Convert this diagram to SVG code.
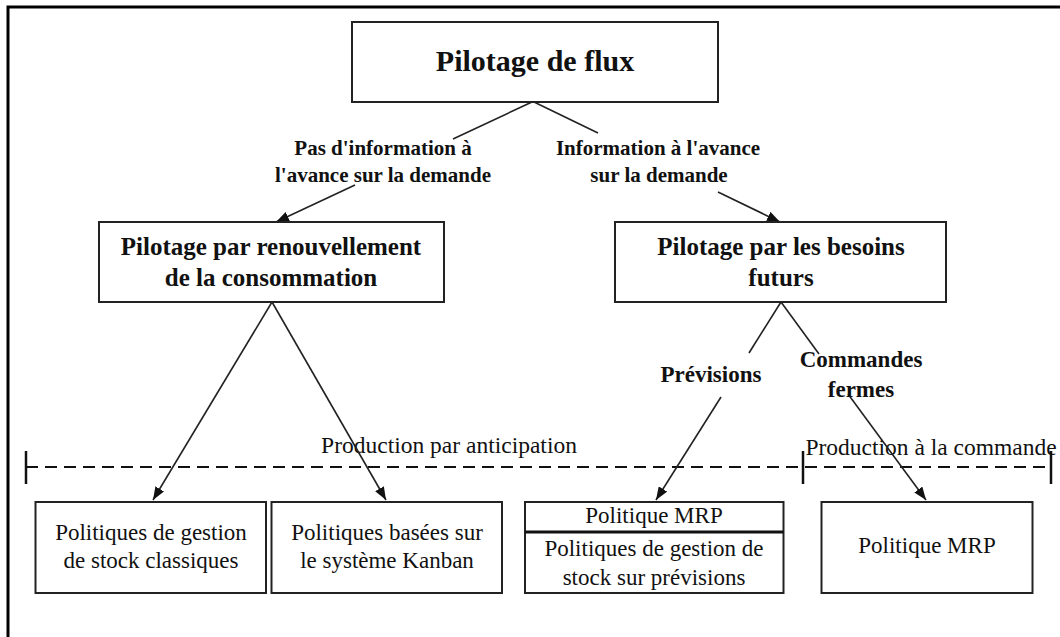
<svg xmlns="http://www.w3.org/2000/svg" width="1060" height="637" viewBox="0 0 1060 637">
  <defs>
    <marker id="arrow" markerUnits="userSpaceOnUse" markerWidth="14" markerHeight="10" refX="13" refY="5" orient="auto">
      <path d="M0,0 L13,5 L0,10 Z" fill="#111"/>
    </marker>
    <style>
      text { font-family: "Liberation Serif", "Times New Roman", serif; fill: #111; text-anchor: middle; }
      .title { font-size: 30px; font-weight: bold; }
      .head { font-size: 25px; font-weight: bold; }
      .lbl { font-size: 21px; font-weight: bold; }
      .lbl2 { font-size: 23px; font-weight: bold; }
      .leaf { font-size: 23px; }
      .zone { font-size: 23.5px; }
      .box { fill: #fff; stroke: #222; stroke-width: 2; }
      .edge { fill: none; stroke: #222; stroke-width: 1.6; }
      .dash { fill: none; stroke: #111; stroke-width: 1.8; stroke-dasharray: 12 7; }
      .tick { stroke: #111; stroke-width: 2.5; }
    </style>
  </defs>

  <rect width="1060" height="637" fill="#fff"/>

  <!-- outer frame -->
  <path d="M8,637 V7 H1060" fill="none" stroke="#000" stroke-width="3"/>

  <!-- production zones -->
  <g id="zones">
    <line class="dash" x1="26" y1="467" x2="1051" y2="467"/>
    <line class="tick" x1="26" y1="451" x2="26" y2="484"/>
    <line class="tick" x1="803" y1="451" x2="803" y2="484"/>
    <line class="tick" x1="1051" y1="451" x2="1051" y2="484"/>
    <text class="zone" x="449" y="453">Production par anticipation</text>
    <text class="zone" x="931" y="455">Production à la commande</text>
  </g>

  <!-- connectors -->
  <g id="connectors">
    <line class="edge" x1="532" y1="102" x2="453" y2="139"/>
    <line class="edge" x1="355" y1="185" x2="276" y2="222" marker-end="url(#arrow)"/>
    <line class="edge" x1="534" y1="102" x2="598" y2="133"/>
    <line class="edge" x1="718" y1="192" x2="780" y2="222" marker-end="url(#arrow)"/>
    <line class="edge" x1="272" y1="302" x2="153" y2="500" marker-end="url(#arrow)"/>
    <line class="edge" x1="272" y1="302" x2="386" y2="500" marker-end="url(#arrow)"/>
    <line class="edge" x1="781" y1="302" x2="749" y2="353"/>
    <line class="edge" x1="721" y1="397" x2="656" y2="500" marker-end="url(#arrow)"/>
    <line class="edge" x1="781" y1="302" x2="819" y2="354"/>
    <line class="edge" x1="848" y1="394" x2="926" y2="500" marker-end="url(#arrow)"/>
  </g>

  <!-- connector labels -->
  <g id="edge-labels">
    <text class="lbl" x="383" y="155">Pas d'information à</text>
    <text class="lbl" x="383" y="182">l'avance sur la demande</text>
    <text class="lbl" x="658" y="155">Information à l'avance</text>
    <text class="lbl" x="659" y="182">sur la demande</text>
    <text class="lbl2" x="711" y="382">Prévisions</text>
    <text class="lbl2" x="861" y="367">Commandes</text>
    <text class="lbl2" x="861" y="397">fermes</text>
  </g>

  <g id="pilotage-flux">
    <rect class="box" x="352" y="22" width="366" height="80"/>
    <text class="title" x="535" y="71">Pilotage de flux</text>
  </g>

  <g id="pilotage-renouvellement">
    <rect class="box" x="99" y="222" width="345" height="80"/>
    <text class="head" x="271" y="255">Pilotage par renouvellement</text>
    <text class="head" x="271" y="286">de la consommation</text>
  </g>

  <g id="pilotage-besoins">
    <rect class="box" x="615" y="222" width="331" height="80"/>
    <text class="head" x="781" y="255">Pilotage par les besoins</text>
    <text class="head" x="781" y="286">futurs</text>
  </g>

  <g id="gestion-classique">
    <rect class="box" x="35.5" y="502" width="230.5" height="91"/>
    <text class="leaf" x="151" y="540">Politiques de gestion</text>
    <text class="leaf" x="151" y="568">de stock classiques</text>
  </g>

  <g id="kanban">
    <rect class="box" x="271.5" y="502" width="230.5" height="91"/>
    <text class="leaf" x="387" y="540">Politiques basées sur</text>
    <text class="leaf" x="387" y="568">le système Kanban</text>
  </g>

  <g id="mrp-previsions">
    <rect class="box" x="525" y="502" width="258.5" height="91"/>
    <line x1="525" y1="532" x2="783.5" y2="532" stroke="#111" stroke-width="3"/>
    <text class="leaf" x="654" y="523">Politique MRP</text>
    <text class="leaf" x="654" y="556">Politiques de gestion de</text>
    <text class="leaf" x="654" y="585">stock sur prévisions</text>
  </g>

  <g id="mrp-commande">
    <rect class="box" x="821.5" y="502" width="211" height="91"/>
    <text class="leaf" x="927" y="553">Politique MRP</text>
  </g>
</svg>
